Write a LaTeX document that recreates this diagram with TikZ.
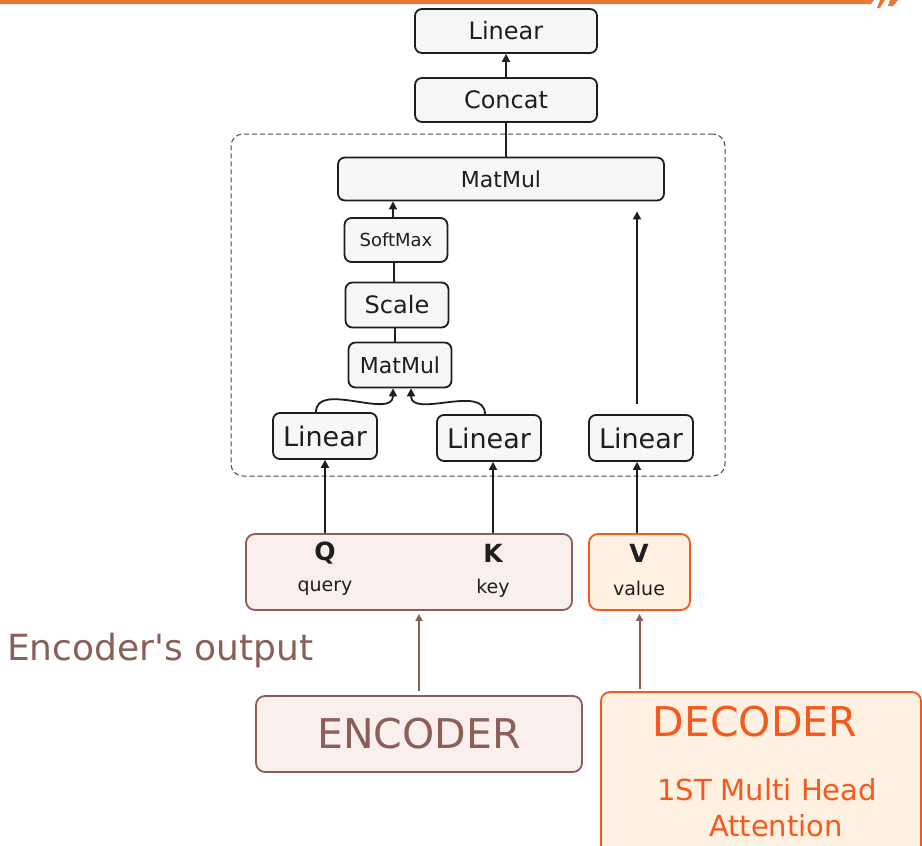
\documentclass[tikz,border=0pt]{standalone}
\usepackage{fontspec}
\setmainfont{DejaVu Sans}
\usetikzlibrary{arrows.meta}
\definecolor{barorange}{HTML}{E8773A}
\definecolor{encbrown}{HTML}{8A5F58}
\definecolor{encfill}{HTML}{F9EFEC}
\definecolor{decorange}{HTML}{F45A1E}
\definecolor{decfill}{HTML}{FFF1E2}
\definecolor{boxfill}{HTML}{F6F7F9}
\definecolor{ink}{HTML}{1E1E1E}
\newcommand{\fs}[1]{\fontsize{#1}{#1}\selectfont}
\begin{document}
\begin{tikzpicture}[x=1pt,y=-1pt,
  opbox/.style={draw=ink, line width=1.8pt, fill=boxfill, rounded corners=7pt, inner sep=0pt, text=ink},
  dashbox/.style={draw=ink!80, dash pattern=on 5pt off 3pt, line width=1pt, rounded corners=12pt, inner sep=0pt},
  encbox/.style={draw=encbrown, line width=1.8pt, fill=encfill, rounded corners=9pt, inner sep=0pt},
  decbox/.style={draw=decorange, line width=1.8pt, fill=decfill, rounded corners=9pt, inner sep=0pt},
  arr/.style={draw=ink, line width=1.8pt, -{Triangle[length=8pt,width=8pt]}},
  plain/.style={draw=ink, line width=1.8pt},
  barr/.style={draw=encbrown, line width=2pt, -{Triangle[length=7pt,width=7pt]}},
  lbl/.style={inner sep=0pt}]
\useasboundingbox (0,0) rectangle (922,846);
\clip (0,0) rectangle (922,846);
\fill[white] (0,0) rectangle (922,846);
% top orange bar
\fill[barorange] (0,0) -- (874,0) -- (871,4) -- (0,4) -- cycle;
\fill[barorange] (880,0) -- (885,0) -- (880,8) -- (877,8) -- cycle;
\fill[barorange] (890,0) -- (898,0) -- (893,6) -- (888,6) -- cycle;

% dashed group
\node[dashbox, minimum width=494pt, minimum height=342pt] (grp) at (478,305) {};

% top stack
\node[opbox, minimum width=182pt, minimum height=44pt, font=\fs{24}] (lintop) at (506,31) {Linear};
\node[opbox, minimum width=182pt, minimum height=44pt, font=\fs{24}] (concat) at (506,100) {Concat};
\node[opbox, minimum width=326pt, minimum height=43pt, font=\fs{22}] (mmbig) at (501,179) {MatMul};
\node[opbox, minimum width=103pt, minimum height=44pt, font=\fs{18}] (soft) at (396,240) {SoftMax};
\node[opbox, minimum width=103pt, minimum height=45pt, font=\fs{24}] (scale) at (397,305) {Scale};
\node[opbox, minimum width=103pt, minimum height=45pt, font=\fs{22}] (mmsm) at (400,365) {MatMul};
\node[opbox, minimum width=104pt, minimum height=46pt, font=\fs{27}] (lin1) at (325,436) {Linear};
\node[opbox, minimum width=104pt, minimum height=46pt, font=\fs{27}] (lin2) at (489,438) {Linear};
\node[opbox, minimum width=104pt, minimum height=46pt, font=\fs{27}] (lin3) at (641,438) {Linear};

% connectors in stack
\draw[arr] (concat.north) -- (lintop.south);
\draw[plain] (concat.south) -- (concat.south |- mmbig.north);
\draw[arr] ([xshift=-3pt]soft.north) -- ([xshift=-3pt]soft.north |- mmbig.south);
\draw[plain] ([xshift=-3pt]scale.north) -- ([xshift=-3pt]scale.north |- soft.south);
\draw[plain] ([xshift=-5pt]mmsm.north) -- ([xshift=-5pt]mmsm.north |- scale.south);
\draw[arr] ([xshift=-9pt]lin1.north) to[out=90,in=-90] ([xshift=-7pt]mmsm.south);
\draw[arr] ([xshift=-4pt]lin2.north) to[out=90,in=-90] ([xshift=11pt]mmsm.south);
\coordinate (vtip) at ([yshift=-10pt]mmbig.south -| lin3.north);
\draw[arr, shorten <=10pt] ([xshift=-4pt]lin3.north) -- ([xshift=-4pt]vtip);

% Q K V
\node[encbox, minimum width=326pt, minimum height=76pt] (qk) at (409,572) {};
\node[lbl, font=\fs{25}\bfseries, text=ink] (q) at (325,553) {Q};
\node[lbl, font=\fs{19}, text=ink] (query) at (325,588) {query};
\node[lbl, font=\fs{25}\bfseries, text=ink] (k) at (493,553) {K};
\node[lbl, font=\fs{19}, text=ink] (key) at (493,588) {key};
\node[decbox, minimum width=101pt, minimum height=76pt] (vbox) at (639.5,572) {};
\node[lbl, font=\fs{25}\bfseries, text=ink] (v) at (639,553) {V};
\node[lbl, font=\fs{19}, text=ink] (value) at (639,588) {value};

\draw[arr] (qk.north -| lin1) -- (lin1.south);
\draw[arr] ([xshift=4pt]qk.north -| lin2) -- ([xshift=4pt]lin2.south);
\draw[arr] ([xshift=-4pt]vbox.north -| lin3) -- ([xshift=-4pt]lin3.south);

% encoder / decoder
\node[encbox, minimum width=326pt, minimum height=76pt, font=\fs{41}, text=encbrown] (enc) at (419,734) {ENCODER};
\node[decbox, minimum width=320pt, minimum height=180pt] (dec) at (761,782) {};
\node[lbl, font=\fs{41}, text=decorange] (dectxt) at (755,722) {DECODER};
\node[lbl, font=\fs{29}, text=decorange] (mha1) at (767,790) {1ST Multi Head};
\node[lbl, font=\fs{29}, text=decorange] (mha2) at (776,826) {Attention};
\node[lbl, font=\fs{36}, text=encbrown, anchor=west] (encout) at (7,651) {Encoder\textquotesingle s output};

\draw[barr] ([yshift=4pt]enc.north) -- ([yshift=-3pt]qk.south -| enc.north);
\draw[barr] ([yshift=2pt]dec.north -| vbox) -- ([yshift=-3pt]vbox.south);
\end{tikzpicture}
\end{document}
